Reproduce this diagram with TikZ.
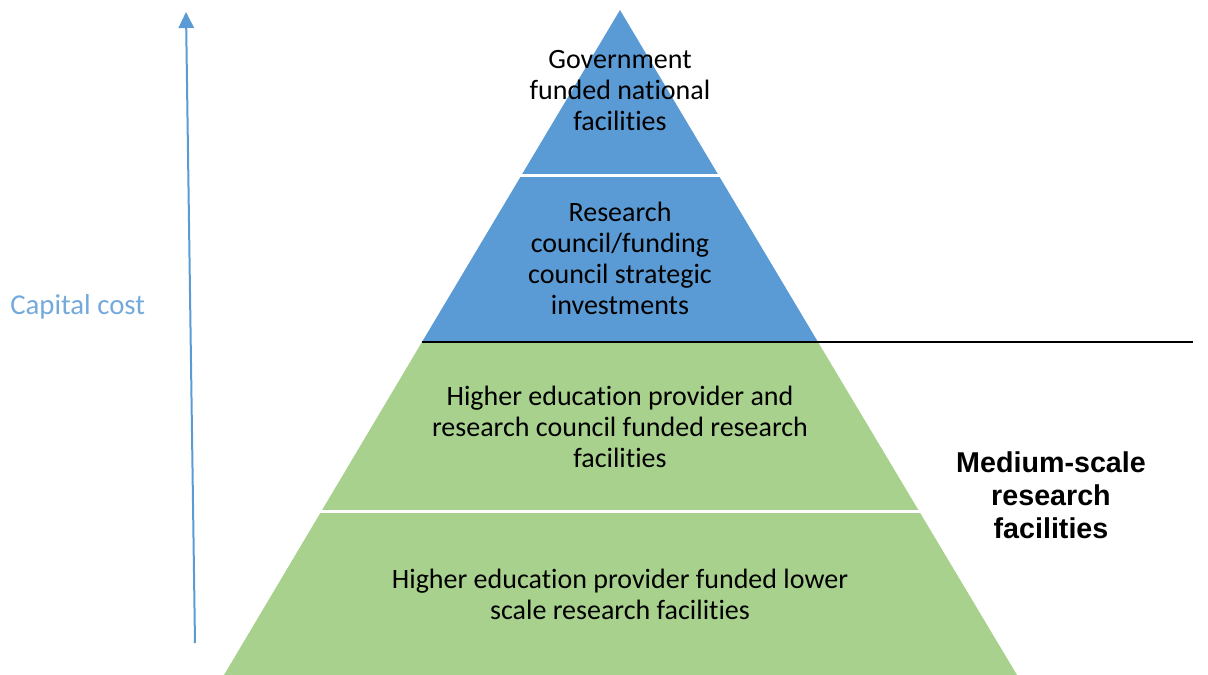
\documentclass[tikz,border=0pt]{standalone}
\usepackage{fontspec}
\setmainfont{Carlito}[Ligatures={NoCommon,NoRare,NoContextual}]
\newfontfamily\arialfont{Liberation Sans}
\usetikzlibrary{arrows.meta,calc}
\definecolor{pblue}{HTML}{5B9BD5}
\definecolor{pgreen}{HTML}{A9D18E}
\begin{document}
\begin{tikzpicture}[x=0.75pt,y=-0.75pt,
  layertext/.style={align=center,font=\fontsize{21pt}{23.25pt}\selectfont,text=black,inner sep=0pt},
  sidetext/.style={align=center,font=\arialfont\bfseries\fontsize{21.5pt}{24.75pt}\selectfont,inner sep=0pt},
  gap/.style={white,line width=2.25pt},
]
\useasboundingbox (0,0) rectangle (1208,675);
% pyramid corner coordinates
\coordinate (apex) at (620,10);
\coordinate (l1) at (521.5,175); \coordinate (r1) at (718.5,175);
\coordinate (l2) at (422,342);   \coordinate (r2) at (818,342);
\coordinate (l3) at (321,511);   \coordinate (r3) at (919,511);
\coordinate (l4) at (224,675);   \coordinate (r4) at (1017,675);
% layers
\fill[pblue] (apex) -- (r2) -- (l2) -- cycle;
\fill[pgreen] (l2) -- (r2) -- (r4) -- (l4) -- cycle;
\draw[gap] ($(l1)+(-3,0)$) -- ($(r1)+(3,0)$);
\draw[gap] ($(l3)+(-3,0)$) -- ($(r3)+(3,0)$);
% black line
\coordinate (lineend) at (1193,342);
\draw[black,line width=1.9pt] (l2) -- (lineend);
% arrow
\coordinate (arrbot) at (195,643);
\coordinate (arrtop) at (186,12);
\draw[pblue,line width=1.5pt,-{Triangle[width=11.5pt,length=12pt]}] (arrbot) -- (arrtop);
% texts
\node[layertext] (t1) at (620,90.5) {Government\\funded national\\facilities};
\node[layertext] (t2) at (620,258) {Research\\council/funding\\council strategic\\investments};
\node[layertext] (t3) at (620,426.5) {Higher education provider and\\research council funded research\\facilities};
\node[layertext] (t4) at (620,594) {Higher education provider funded lower\\scale research facilities};
\node[sidetext] (side) at (1051,495) {Medium-scale\\research\\facilities};
\node[font=\fontsize{21.6pt}{24pt}\selectfont,text=pblue!85,inner sep=0pt,anchor=west] (cap) at (10,307) {Capital cost};
\end{tikzpicture}
\end{document}
